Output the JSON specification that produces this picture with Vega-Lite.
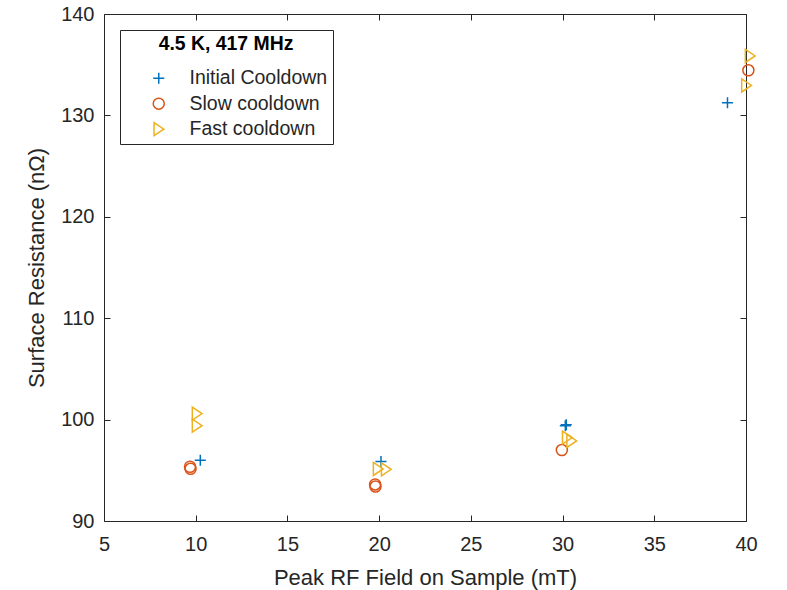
{
  "$schema": "https://vega.github.io/schema/vega-lite/v6.json",
  "width": 642,
  "height": 507,
  "autosize": "none",
  "padding": {"left": 104, "top": 14, "right": 41, "bottom": 69},
  "background": "white",
  "config": {
    "font": "Liberation Sans",
    "view": {"stroke": null},
    "axis": {
      "domainColor": "#262626",
      "tickColor": "#262626",
      "labelColor": "#262626",
      "titleColor": "#262626",
      "labelFont": "Liberation Sans",
      "titleFont": "Liberation Sans",
      "labelFontSize": 20,
      "titleFontSize": 22,
      "titleFontWeight": "normal",
      "grid": false,
      "tickSize": -6,
      "domainWidth": 1,
      "tickWidth": 1,
      "labelFlush": false
    }
  },
  "data": {
    "values": [
      {"series": "Initial Cooldown", "field": 10.25, "rs": 96.0},
      {"series": "Initial Cooldown", "field": 20.1, "rs": 95.87},
      {"series": "Initial Cooldown", "field": 30.15, "rs": 99.4},
      {"series": "Initial Cooldown", "field": 30.2, "rs": 99.5},
      {"series": "Initial Cooldown", "field": 38.99, "rs": 131.25},
      {"series": "Slow cooldown", "field": 9.69, "rs": 95.35},
      {"series": "Slow cooldown", "field": 9.72, "rs": 95.15},
      {"series": "Slow cooldown", "field": 19.78, "rs": 93.6},
      {"series": "Slow cooldown", "field": 19.8, "rs": 93.4},
      {"series": "Slow cooldown", "field": 29.96, "rs": 97.0},
      {"series": "Slow cooldown", "field": 40.13, "rs": 134.45},
      {"series": "Fast cooldown", "field": 10.07, "rs": 100.6},
      {"series": "Fast cooldown", "field": 10.07, "rs": 99.4},
      {"series": "Fast cooldown", "field": 19.94, "rs": 95.13},
      {"series": "Fast cooldown", "field": 20.38, "rs": 95.1},
      {"series": "Fast cooldown", "field": 30.25, "rs": 98.23},
      {"series": "Fast cooldown", "field": 30.49, "rs": 97.89},
      {"series": "Fast cooldown", "field": 40.22, "rs": 135.86},
      {"series": "Fast cooldown", "field": 40.02, "rs": 132.95}
    ]
  },
  "layer": [
    {
      "mark": {"type": "point", "filled": false, "strokeWidth": 1.5, "size": 169, "opacity": 1},
      "encoding": {
        "x": {
          "field": "field", "type": "quantitative",
          "scale": {"domain": [5, 40], "nice": false, "zero": false},
          "axis": {"values": [5, 10, 15, 20, 25, 30, 35, 40], "title": "Peak RF Field on Sample (mT)", "labelPadding": 19, "titlePadding": 13}
        },
        "y": {
          "field": "rs", "type": "quantitative",
          "scale": {"domain": [90, 140], "nice": false, "zero": false},
          "axis": {"values": [90, 100, 110, 120, 130, 140], "title": "Surface Resistance (nΩ)", "labelPadding": 16, "titlePadding": 12}
        },
        "color": {
          "field": "series", "type": "nominal",
          "scale": {"domain": ["Initial Cooldown", "Slow cooldown", "Fast cooldown"], "range": ["#0072BD", "#D95319", "#EDB120"]},
          "legend": {
            "title": "4.5 K, 417 MHz",
            "orient": "top-left",
            "offset": 16,
            "titleFont": "Liberation Sans",
            "titleFontSize": 19.4,
            "titleFontWeight": "bold",
            "titleColor": "#000000",
            "titleAnchor": "middle",
            "titlePadding": 14,
            "labelFont": "Liberation Sans",
            "labelFontSize": 19.5,
            "labelColor": "#262626",
            "labelOffset": 21,
            "symbolOffset": 24,
            "symbolSize": 169,
            "symbolStrokeWidth": 1.5,
            "rowPadding": 4.5,
            "padding": 5,
            "strokeColor": "#262626",
            "fillColor": "white",
            "cornerRadius": 0
          }
        },
        "shape": {
          "field": "series", "type": "nominal",
          "scale": {
            "domain": ["Initial Cooldown", "Slow cooldown", "Fast cooldown"],
            "range": [
              "M-0.85,0L0.85,0M0,-0.85L0,0.85",
              "M0.85,0A0.85,0.85,0,1,1,-0.85,0A0.85,0.85,0,1,1,0.85,0Z",
              "M-0.72,-1L0.78,0L-0.72,1Z"
            ]
          }
        }
      }
    },
    {
      "mark": {"type": "point", "opacity": 0},
      "encoding": {
        "x": {
          "field": "field", "type": "quantitative",
          "scale": {"domain": [5, 40], "nice": false, "zero": false},
          "axis": {"orient": "top", "values": [5, 10, 15, 20, 25, 30, 35, 40], "labels": false, "title": null}
        },
        "y": {
          "field": "rs", "type": "quantitative",
          "scale": {"domain": [90, 140], "nice": false, "zero": false},
          "axis": {"orient": "right", "values": [90, 100, 110, 120, 130, 140], "labels": false, "title": null}
        }
      }
    }
  ],
  "resolve": {"axis": {"x": "independent", "y": "independent"}}
}
